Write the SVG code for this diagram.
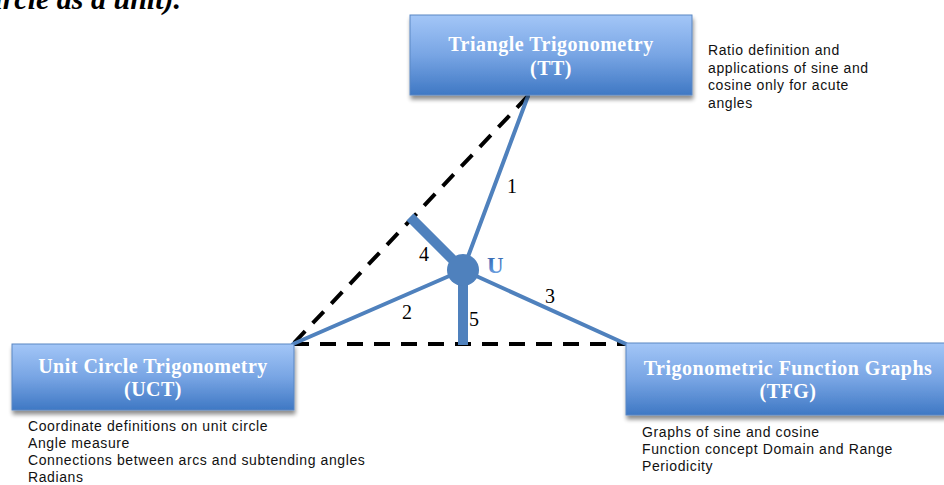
<svg xmlns="http://www.w3.org/2000/svg" width="944" height="485" viewBox="0 0 944 485">
<defs>
<linearGradient id="boxg" x1="0" y1="0" x2="0" y2="1">
<stop offset="0" stop-color="#a3c6f7"/>
<stop offset="0.5" stop-color="#78a5e4"/>
<stop offset="1" stop-color="#3f78c4"/>
</linearGradient>
<linearGradient id="ug" x1="0" y1="0" x2="0" y2="1">
<stop offset="0" stop-color="#2f5fa8"/>
<stop offset="0.6" stop-color="#4f88d0"/>
<stop offset="1" stop-color="#8fb6ea"/>
</linearGradient>
<filter id="sh" x="-10%" y="-10%" width="120%" height="140%">
<feGaussianBlur in="SourceAlpha" stdDeviation="2"/>
<feOffset dx="1" dy="4"/>
<feComponentTransfer><feFuncA type="linear" slope="0.45"/></feComponentTransfer>
<feMerge><feMergeNode/><feMergeNode in="SourceGraphic"/></feMerge>
</filter>
</defs>
<style>
.box{fill:url(#boxg);stroke:#5b87c3;stroke-width:1;filter:url(#sh)}
.bt{font-family:"Liberation Serif",serif;font-weight:bold;font-size:20px;letter-spacing:0.5px;fill:#ffffff;text-anchor:middle}
.desc{font-family:"Liberation Sans",Arial,sans-serif;font-size:14px;letter-spacing:0.6px;fill:#111111}
.num{font-family:"Liberation Serif",serif;font-size:20px;fill:#000000}
.thin{stroke:#4f81bd;stroke-width:4;fill:none;stroke-linecap:round}
.thick{stroke:#4f81bd;stroke-width:10;fill:none}
.dash{stroke:#000000;stroke-width:4;fill:none;stroke-dasharray:16 11}
</style>
<text x="181" y="9" font-family="Liberation Serif,serif" font-weight="bold" font-style="italic" font-size="30" text-anchor="end" fill="#000">circle as a unit).</text>
<g id="connectors">
<line class="dash" x1="528" y1="96" x2="293" y2="344"/>
<line class="dash" x1="293" y1="344" x2="626" y2="344"/>
<line class="thin" x1="463" y1="270" x2="528" y2="96"/>
<line class="thin" x1="463" y1="270" x2="293" y2="344"/>
<line class="thin" x1="463" y1="270" x2="626" y2="344"/>
<line class="thick" x1="463" y1="270" x2="410" y2="217"/>
<line class="thick" x1="463" y1="270" x2="463" y2="345"/>
<text class="num" x="507" y="193">1</text>
<text class="num" x="402" y="319">2</text>
<text class="num" x="545" y="303">3</text>
<text class="num" x="419" y="261">4</text>
<text class="num" x="469" y="326">5</text>
</g>
<g id="U">
<circle cx="463" cy="270" r="16" fill="#4f81bd"/>
<text x="487" y="273" font-family="Liberation Serif,serif" font-weight="bold" font-size="23" fill="url(#ug)">U</text>
</g>
<g id="TT">
<rect class="box" x="410" y="15" width="282" height="80"/>
<text class="bt" x="551" y="51">Triangle Trigonometry</text>
<text class="bt" x="551" y="75">(TT)</text>
<text class="desc" x="708" y="55">Ratio definition and</text>
<text class="desc" x="708" y="73">applications of sine and</text>
<text class="desc" x="708" y="90">cosine only for acute</text>
<text class="desc" x="708" y="108">angles</text>
</g>
<g id="UCT">
<rect class="box" x="12" y="344" width="282" height="66"/>
<text class="bt" x="153" y="373">Unit Circle Trigonometry</text>
<text class="bt" x="153" y="396">(UCT)</text>
<text class="desc" x="28" y="431">Coordinate definitions on unit circle</text>
<text class="desc" x="28" y="448">Angle measure</text>
<text class="desc" x="28" y="465">Connections between arcs and subtending angles</text>
<text class="desc" x="28" y="482">Radians</text>
</g>
<g id="TFG">
<rect class="box" x="626" y="343" width="320" height="72"/>
<text class="bt" x="788" y="375">Trigonometric Function Graphs</text>
<text class="bt" x="788" y="398">(TFG)</text>
<text class="desc" x="642" y="437">Graphs of sine and cosine</text>
<text class="desc" x="642" y="454">Function concept Domain and Range</text>
<text class="desc" x="642" y="471">Periodicity</text>
</g>
</svg>
